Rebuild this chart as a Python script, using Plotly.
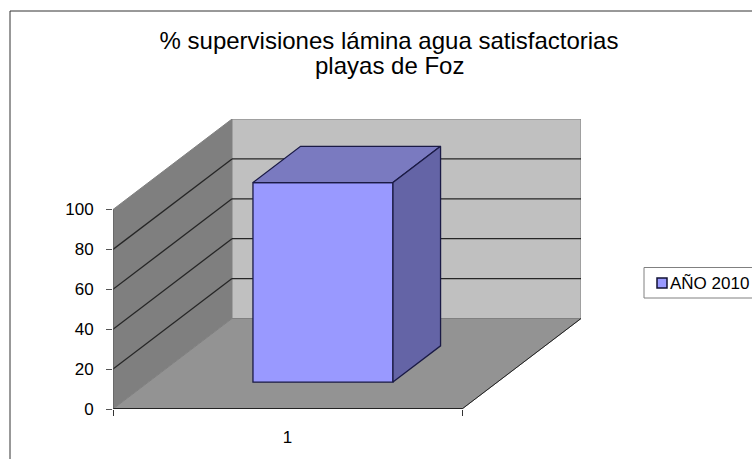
import plotly.graph_objects as go

categories = [1]
series_name = "AÑO 2010"
values = [100]
y_ticks = [0, 20, 40, 60, 80, 100]
title_lines = ["% supervisiones lámina agua satisfactorias", "playas de Foz"]

W, H = 752, 459
L, R, T, B = 113, 171, 119, 50
plot_w, plot_h = W - L - R, H - T - B
x_px = 349.0  # px for one category
y_px = 1.995  # px for one percent

# oblique offset of the back wall, in data units
wall_dx = 119 / x_px
wall_dy = 90.5 / y_px
# bar placement inside the depth
bar_front = 0.298
bar_depth = 0.40
bar_width = 140 / x_px

x0, x1 = 0.5, 1.5
y_top = max(y_ticks)
FONT = "Liberation Sans"
EDGE = "#1a1a45"


def poly(points, fill, line_color, width=1, layer="below"):
    path = "M" + " L".join(f"{x},{y}" for x, y in points) + " Z"
    return dict(type="path", path=path, xref="x", yref="y", fillcolor=fill,
                line=dict(color=line_color, width=width), layer=layer)


def seg(xa, ya, xb, yb, color, width=1, layer="below"):
    return dict(type="line", x0=xa, y0=ya, x1=xb, y1=yb, xref="x", yref="y",
                line=dict(color=color, width=width), layer=layer)


def paper_x(px):
    return (px - L) / plot_w


def paper_y(py):
    return (H - B - py) / plot_h


shapes = [
    # walls and floor
    poly([(x0, 0), (x0 + wall_dx, wall_dy), (x0 + wall_dx, y_top + wall_dy), (x0, y_top)], "#7f7f7f", "#808080"),
    poly([(x0 + wall_dx, wall_dy), (x1 + wall_dx, wall_dy), (x1 + wall_dx, y_top + wall_dy), (x0 + wall_dx, y_top + wall_dy)],
         "#c0c0c0", "#808080"),
    poly([(x0, 0), (x1, 0), (x1 + wall_dx, wall_dy), (x0 + wall_dx, wall_dy)], "#939393", "#808080"),
]
for t in y_ticks[1:-1]:
    shapes.append(seg(x0, t, x0 + wall_dx, t + wall_dy, "#262626", 1.3))
    shapes.append(seg(x0 + wall_dx, t + wall_dy, x1 + wall_dx, t + wall_dy, "#262626", 1.3))
shapes += [
    seg(x0, 0, x1, 0, "#000000", 1.3),
    seg(x1, 0, x1 + wall_dx, wall_dy, "#222222"),
    seg(x0, 0, x0, y_top, "#555555"),
]
# chart frame, cut off by the screenshot on the right and bottom
for xa, ya, xb, yb in [(10, 11, 10, H), (10, 11, W, 11)]:
    shapes.append(dict(type="line", xref="paper", yref="paper", x0=paper_x(xa), y0=paper_y(ya),
                       x1=paper_x(xb), y1=paper_y(yb), line=dict(color="#333333", width=1)))
# legend box and swatch
shapes.append(dict(type="rect", xref="paper", yref="paper", x0=paper_x(644), y0=paper_y(267.5),
                   x1=paper_x(760), y1=paper_y(298), line=dict(color="#808080", width=1), fillcolor="white"))
shapes.append(dict(type="rect", xref="paper", yref="paper", x0=paper_x(657), y0=paper_y(278),
                   x1=paper_x(667), y1=paper_y(288), line=dict(color="#111133", width=1.5), fillcolor="#9999ff"))

fig = go.Figure()

for cat, val in zip(categories, values):
    lift = bar_front * wall_dy
    cx = cat + bar_front * wall_dx
    left, right = cx - bar_width / 2, cx + bar_width / 2
    top = lift + val
    ddx, ddy = bar_depth * wall_dx, bar_depth * wall_dy

    fig.add_trace(go.Bar(x=[cx], y=[val], base=[lift], width=[bar_width], name=series_name,
                         marker=dict(color="#9999ff", line=dict(color=EDGE, width=1.3)),
                         showlegend=False, hoverinfo="y"))
    # top face
    fig.add_trace(go.Scatter(x=[left, right, right + ddx, left + ddx, left], y=[top, top, top + ddy, top + ddy, top],
                             mode="lines", fill="toself", fillcolor="#7a7ac0", line=dict(color=EDGE, width=1.3),
                             showlegend=False, hoverinfo="skip"))
    # side face
    fig.add_trace(go.Scatter(x=[right, right + ddx, right + ddx, right, right], y=[top, top + ddy, lift + ddy, lift, top],
                             mode="lines", fill="toself", fillcolor="#6464a6", line=dict(color=EDGE, width=1.3),
                             showlegend=False, hoverinfo="skip"))

fig.add_annotation(xref="paper", yref="paper", x=paper_x(389), y=paper_y(65), xanchor="center", yanchor="middle",
                   text=title_lines[1], showarrow=False, font=dict(family=FONT, size=24, color="black"))
fig.add_annotation(xref="paper", yref="paper", x=paper_x(668), y=paper_y(283), xanchor="left", yanchor="middle",
                   text=series_name, showarrow=False, font=dict(family=FONT, size=17, color="black"))

fig.update_layout(
    width=W, height=H,
    margin=dict(l=L, r=R, t=T, b=B, pad=0),
    paper_bgcolor="white", plot_bgcolor="rgba(0,0,0,0)",
    title=dict(text=title_lines[0], x=389 / W, xanchor="center",
               y=1 - 41 / H, yanchor="middle", font=dict(family=FONT, size=24, color="black")),
    font=dict(family=FONT, size=17, color="black"),
    showlegend=False,
    shapes=shapes,
    xaxis=dict(range=[x0, x0 + plot_w / x_px], tickvals=categories, ticks="", showgrid=False, zeroline=False,
               showline=False, ticklabelstandoff=16, automargin=False,
               minor=dict(tickmode="array", tickvals=[x0, x1], ticks="outside", ticklen=6, tickcolor="#333333", showgrid=False)),
    yaxis=dict(range=[0, plot_h / y_px], tickvals=y_ticks, ticks="outside", ticklen=6, tickcolor="#555555",
               ticklabelstandoff=9, showgrid=False, zeroline=False, showline=False, automargin=False),
)

# the default 8px body margin would shift and clip the fixed-size figure
fig.write_html("out.html", config={"displayModeBar": False}, post_script="document.body.style.margin='0';")
